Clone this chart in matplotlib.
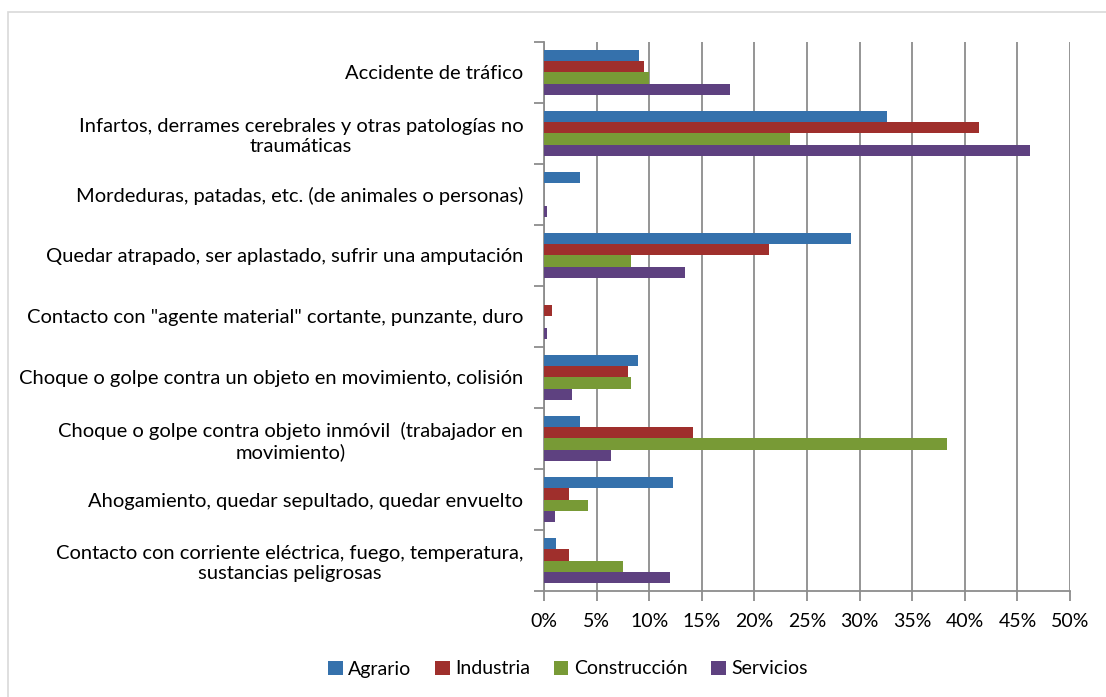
import numpy as np
import matplotlib.pyplot as plt
from matplotlib.patches import Rectangle
from matplotlib.ticker import PercentFormatter

# Categories, top to bottom as in the chart
categories = [
    'Accidente de tráfico',
    'Infartos, derrames cerebrales y otras patologías no\ntraumáticas',
    'Mordeduras, patadas, etc. (de animales o personas)',
    'Quedar atrapado, ser aplastado, sufrir una amputación',
    'Contacto con "agente material" cortante, punzante, duro',
    'Choque o golpe contra un objeto en movimiento, colisión',
    'Choque o golpe contra objeto inmóvil  (trabajador en\nmovimiento)',
    'Ahogamiento, quedar sepultado, quedar envuelto',
    'Contacto con corriente eléctrica, fuego, temperatura,\nsustancias peligrosas',
]

series_names = ['Agrario', 'Industria', 'Construcción', 'Servicios']

# percentages
agrario      = [9.0, 32.6, 3.4, 29.2, 0.0, 8.9, 3.4, 12.3, 1.1]
industria    = [9.5, 41.3, 0.0, 21.4, 0.8, 8.0, 14.2, 2.4, 2.4]
construccion = [10.0, 23.4, 0.0, 8.3, 0.0, 8.3, 38.3, 4.2, 7.5]
servicios    = [17.7, 46.2, 0.3, 13.4, 0.3, 2.7, 6.4, 1.0, 12.0]

colors = ['#3571ac', '#9f2f2c', '#789a36', '#5e4180']

plt.rcParams['font.family'] = ['Lato', 'DejaVu Sans']

fig = plt.figure(figsize=(11.06, 6.97), dpi=100)
ax = fig.add_axes([0.4919, 0.152, 0.4756, 0.788])

# outer chart border (only left and top visible in the crop)
fig.patches.append(Rectangle((8 / 1106, -0.1), 1.2, 1 - 12 / 697 + 0.1,
                             transform=fig.transFigure, fill=False,
                             edgecolor='#d9d9d9', linewidth=1.2))

y = np.arange(len(categories))
h = 0.185
data = [agrario, industria, construccion, servicios]
for i, vals in enumerate(data):
    ax.barh(y - 1.5 * h + i * h, vals, height=h, color=colors[i],
            linewidth=0, label=series_names[i], zorder=3)

ax.set_xlim(0, 50)
ax.set_ylim(len(categories) - 0.5, -0.5)
ax.set_xticks(np.arange(0, 51, 5))
ax.xaxis.set_major_formatter(PercentFormatter(decimals=0))
ax.grid(axis='x', color='#8c8c8c', linewidth=1.3, zorder=0)

# category labels without ticks, ticks on the boundaries
ax.set_yticks(y)
ax.set_yticklabels(categories, fontsize=14.5, ha='right', multialignment='center')
ax.tick_params(axis='y', length=0, pad=15)
ax.set_yticks(np.arange(-0.5, len(categories) + 0.5, 1), minor=True)
ax.tick_params(axis='y', which='minor', length=7, color='#8c8c8c', width=1.3)
ax.tick_params(axis='x', length=7, color='#8c8c8c', width=1.3, labelsize=14, pad=9)

for s in ['top', 'right']:
    ax.spines[s].set_visible(False)
for s in ['left', 'bottom']:
    ax.spines[s].set_color('#8c8c8c')
    ax.spines[s].set_linewidth(1.3)

fig.legend(loc='center', bbox_to_anchor=(568 / 1106, 1 - 669 / 697), ncol=4,
           frameon=False, fontsize=14, handlelength=0.75, handleheight=0.75,
           handletextpad=0.3, columnspacing=1.2)

fig.savefig('out.png', dpi=100)
